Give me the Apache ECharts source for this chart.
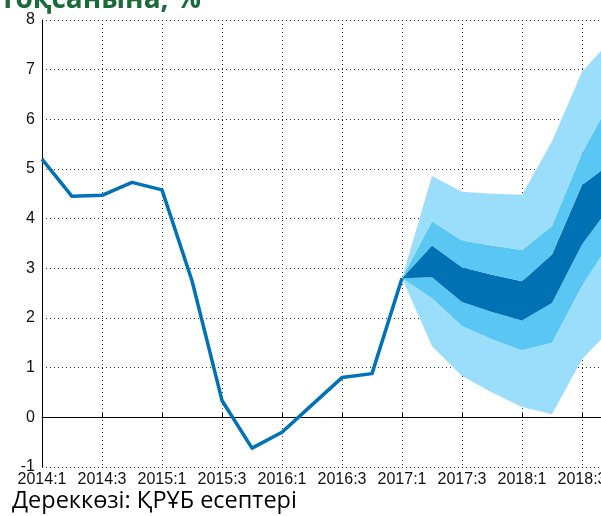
<!DOCTYPE html>
<html>
<head>
<meta charset="utf-8">
<script src="https://cdn.jsdelivr.net/npm/echarts@6/dist/echarts.min.js"></script>
<style>
  html, body { margin: 0; padding: 0; background: #fff; }
  #chart { width: 601px; height: 516px; }
</style>
</head>
<body>
<div id="chart"></div>
<script>
// Quarters shown on the time axis
const quarters = [
  '2014:1','2014:2','2014:3','2014:4','2015:1','2015:2','2015:3','2015:4',
  '2016:1','2016:2','2016:3','2016:4','2017:1','2017:2','2017:3','2017:4',
  '2018:1','2018:2','2018:3','2018:4','2019:1'
];

// Actual values, 2014:1 – 2017:1
const actual = [5.2, 4.45, 4.47, 4.73, 4.58, 2.75, 0.34, -0.62, -0.3, 0.25, 0.8, 0.88, 2.8];

// Forecast fan, 2017:1 – 2018:4 (band bounds)
const outerLow  = [2.8, 1.43, 0.83, 0.50, 0.21, 0.06, 1.17, 1.80];
const midLow    = [2.8, 2.40, 1.84, 1.57, 1.35, 1.50, 2.65, 3.58];
const innerLow  = [2.8, 2.82, 2.32, 2.12, 1.95, 2.30, 3.48, 4.30];
const innerHigh = [2.8, 3.46, 3.02, 2.87, 2.74, 3.28, 4.68, 5.13];
const midHigh   = [2.8, 3.95, 3.56, 3.46, 3.37, 3.85, 5.32, 6.43];
const outerHigh = [2.8, 4.86, 4.54, 4.50, 4.48, 5.56, 6.96, 7.62];

const yTicks = { min: -1, max: 8, step: 1 };

const fanStart = actual.length - 1;
const pad = new Array(fanStart).fill(null);
const diff = (hi, lo) => pad.concat(hi.map((v, i) => +(v - lo[i]).toFixed(3)));

const LIGHT = '#9bdefb';
const MID = '#5ac6f3';
const DARK = '#0071b2';

function band(name, data, color) {
  return {
    name, type: 'line', stack: 'fan', data,
    symbol: 'none', lineStyle: { width: 0 },
    areaStyle: { color, opacity: 1 }, silent: true, z: 2
  };
}

const chart = echarts.init(document.getElementById('chart'), null, { renderer: 'canvas' });

const dotted = { color: '#333', width: 1, type: [1, 3] };
const labelFont = { color: '#111', fontFamily: 'Liberation Sans', fontSize: 16 };

chart.setOption({
  animation: false,
  backgroundColor: '#fff',
  // plot runs past the right edge of the page, 30 px per quarter
  grid: { left: 42, top: 20, height: 447, width: 600, containLabel: false, outerBoundsMode: 'none' },
  xAxis: {
    type: 'category',
    data: quarters,
    boundaryGap: false,
    axisLine: { lineStyle: { color: '#000', width: 1 } },
    axisTick: { inside: true, length: 4, interval: 1, lineStyle: { color: '#000' } },
    axisLabel: Object.assign({ interval: 1, margin: 5 }, labelFont),
    splitLine: { show: true, interval: 1, lineStyle: dotted }
  },
  yAxis: {
    type: 'value',
    min: yTicks.min, max: yTicks.max, interval: yTicks.step,
    axisLine: { show: true, lineStyle: { color: '#000', width: 1 } },
    axisTick: { show: false },
    axisLabel: Object.assign({ margin: 7 }, labelFont),
    splitLine: { show: true, lineStyle: dotted }
  },
  series: [
    { name: 'base', type: 'line', stack: 'fan', data: pad.concat(outerLow),
      symbol: 'none', lineStyle: { width: 0 }, silent: true },
    band('lowOuter', diff(midLow, outerLow), LIGHT),
    band('lowMid', diff(innerLow, midLow), MID),
    band('inner', diff(innerHigh, innerLow), DARK),
    band('highMid', diff(midHigh, innerHigh), MID),
    band('highOuter', diff(outerHigh, midHigh), LIGHT),
    {
      name: 'actual', type: 'line', data: actual,
      symbol: 'none', z: 5,
      lineStyle: { color: '#0072b5', width: 3.5, join: 'round' }
    }
  ],
  graphic: [
    {
      type: 'text', x: 0, y: 14, z: 10,
      style: {
        text: 'тоқсанына, %',
        font: 'bold 28px "Open Sans"',
        fill: '#1b6b3a',
        verticalAlign: 'bottom'
      }
    },
    {
      type: 'text', x: 12, y: 501, z: 10,
      style: {
        text: 'Дереккөзі: ҚРҰБ есептері',
        font: '23.5px "Open Sans"',
        fill: '#000',
        verticalAlign: 'middle'
      }
    }
  ]
});
</script>
</body>
</html>
